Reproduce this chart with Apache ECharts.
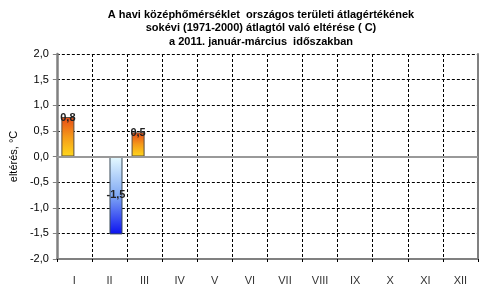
<!DOCTYPE html>
<html><head><meta charset="utf-8">
<script src="https://cdn.jsdelivr.net/npm/echarts@6/dist/echarts.min.js"></script>
<style>html,body{margin:0;padding:0;background:#fff}#c{width:494px;height:303px}</style>
</head><body><div id="c"></div>
<script>
const titleLines = ["A havi középhőmérséklet  országos területi átlagértékének", "sokévi (1971-2000) átlagtól való eltérése ( C)", "a 2011. január-március  időszakban"];
const categories = ["I","II","III","IV","V","VI","VII","VIII","IX","X","XI","XII"];
const positiveValues = [0.77, null, 0.47, null, null, null, null, null, null, null, null, null];
const negativeValues = [null, -1.52, null, null, null, null, null, null, null, null, null, null];
const yTicks = {min: -2, max: 2, interval: 0.5};
const yName = "eltérés, °C";

const fmt = v => v.toFixed(1).replace('.', ',');
const font = "'Liberation Sans', Arial, sans-serif";
const chart = echarts.init(document.getElementById('c'), null, {renderer: 'canvas'});
chart.setOption({
  animation: false,
  title: {
    text: titleLines.join('\n'), left: 256, top: 3, textAlign: 'center',
    textStyle: {fontFamily: font, fontSize: 11, fontWeight: 'bold', color: '#000', lineHeight: 13.5}
  },
  grid: {left: 49, right: 16, top: 54, bottom: 44},
  xAxis: {
    type: 'category', data: categories,
    axisLine: {onZero: false, lineStyle: {color: '#808080', width: 2}},
    axisTick: {show: true, length: 3, lineStyle: {color: '#000'}},
    axisLabel: {fontFamily: font, fontSize: 11, color: '#333', margin: 16},
    splitLine: {show: true, lineStyle: {color: '#000', type: [3, 2], width: 1}}
  },
  yAxis: [{
    type: 'value', min: yTicks.min, max: yTicks.max, interval: yTicks.interval,
    name: yName, nameLocation: 'middle', nameGap: 36, nameRotate: 90,
    nameTextStyle: {fontFamily: font, fontSize: 11, color: '#000'},
    axisLine: {show: true, lineStyle: {color: '#808080', width: 2.5}},
    axisTick: {show: true, length: 4, lineStyle: {color: '#808080'}},
    axisLabel: {fontFamily: font, fontSize: 11, color: '#000', margin: 8, formatter: fmt},
    splitLine: {show: true, lineStyle: {color: '#000', type: [3, 2], width: 1}}
  }, {
    type: 'value', min: yTicks.min, max: yTicks.max, interval: yTicks.interval, position: 'right',
    axisLine: {show: true, lineStyle: {color: '#808080', width: 2}},
    axisTick: {show: false}, axisLabel: {show: false}, splitLine: {show: false}
  }],
  series: [{
    type: 'bar', data: positiveValues, barWidth: 13, barGap: '0%',
    itemStyle: {
      borderColor: '#5a4a3a', borderWidth: 1,
      color: new echarts.graphic.LinearGradient(0, 0, 0, 1, [
        {offset: 0, color: '#e64a17'}, {offset: 0.5, color: '#f59a1a'}, {offset: 1, color: '#ffd81c'}])
    },
    label: {show: true, position: 'top', distance: -6, fontFamily: font, fontSize: 11, fontWeight: 'bold', color: '#222',
      formatter: p => fmt(p.value)},
    markLine: {silent: true, symbol: 'none', label: {show: false},
      lineStyle: {color: '#999', width: 2, type: 'solid'}, data: [{yAxis: 0}]}
  }, {
    type: 'bar', data: negativeValues, barWidth: 13, barGap: '0%',
    itemStyle: {
      borderColor: '#3a4a5a', borderWidth: 1,
      color: new echarts.graphic.LinearGradient(0, 0, 0, 1, [
        {offset: 0, color: '#e6fbff'}, {offset: 0.5, color: '#80a8f4'}, {offset: 1, color: '#0a10f0'}])
    },
    label: {show: true, position: 'inside', fontFamily: font, fontSize: 11, fontWeight: 'bold', color: '#222',
      formatter: p => fmt(p.value)}
  }]
});
</script></body></html>
